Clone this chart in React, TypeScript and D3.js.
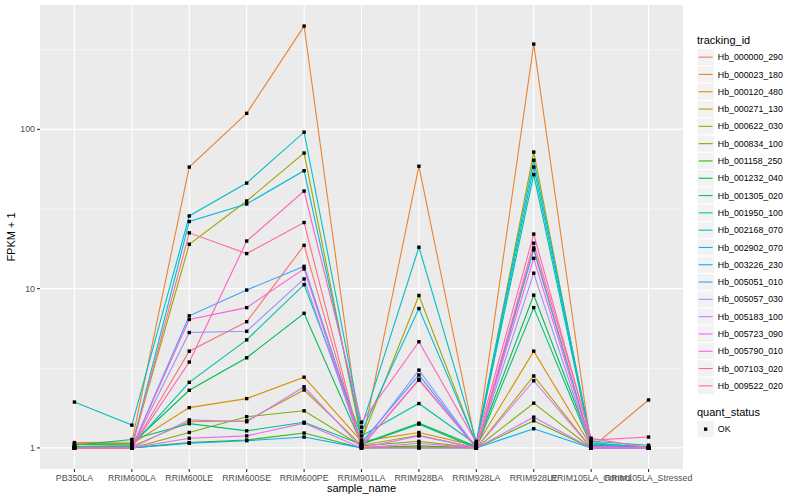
import React from 'react';
import * as d3 from 'd3';

const samples = ['PB350LA', 'RRIM600LA', 'RRIM600LE', 'RRIM600SE', 'RRIM600PE', 'RRIM901LA', 'RRIM928BA', 'RRIM928LA', 'RRIM928LE', 'RRIM105LA_Control', 'RRIM105LA_Stressed'];

const trackingIds = ['Hb_000000_290', 'Hb_000023_180', 'Hb_000120_480', 'Hb_000271_130', 'Hb_000622_030', 'Hb_000834_100', 'Hb_001158_250', 'Hb_001232_040', 'Hb_001305_020', 'Hb_001950_100', 'Hb_002168_070', 'Hb_002902_070', 'Hb_003226_230', 'Hb_005051_010', 'Hb_005057_030', 'Hb_005183_100', 'Hb_005723_090', 'Hb_005790_010', 'Hb_007103_020', 'Hb_009522_020'];

// FPKM + 1 per sample, in the order of `samples`
const hb000000_290 = [1.0, 1.0, 4.05, 6.2, 18.7, 1.02, 2.7, 1.0, 18.0, 1.05, 1.0];
const hb000023_180 = [1.08, 1.09, 58, 126, 445, 1.03, 58.7, 1.02, 343, 1.0, 2.0];
const hb000120_480 = [1.06, 1.06, 1.79, 2.04, 2.78, 1.1, 1.25, 1.03, 4.05, 1.02, 1.0];
const hb000271_130 = [1.0, 1.02, 1.46, 1.48, 2.31, 1.04, 1.2, 1.0, 2.83, 1.0, 1.0];
const hb000622_030 = [1.02, 1.03, 19.0, 35.5, 71, 1.12, 9.06, 1.05, 72, 1.03, 1.0];
const hb000834_100 = [1.0, 1.0, 1.25, 1.57, 1.71, 1.03, 1.1, 1.0, 1.91, 1.0, 1.0];
const hb001158_250 = [1.0, 1.0, 1.08, 1.12, 1.24, 1.0, 1.03, 1.0, 1.48, 1.0, 1.0];
const hb001232_040 = [1.05, 1.06, 2.3, 3.68, 7.0, 1.06, 1.43, 1.02, 9.1, 1.04, 1.0];
const hb001305_020 = [1.04, 1.13, 1.42, 1.28, 1.45, 1.05, 1.41, 1.0, 7.6, 1.02, 1.0];
const hb001950_100 = [1.02, 1.03, 2.58, 4.77, 10.6, 1.19, 1.9, 1.05, 52, 1.06, 1.02];
const hb002168_070 = [1.94, 1.39, 28.6, 46, 96, 1.35, 18.2, 1.1, 64, 1.1, 1.04];
const hb002902_070 = [1.0, 1.02, 26.4, 34, 55, 1.26, 7.5, 1.07, 58, 1.08, 1.0];
const hb003226_230 = [1.0, 1.0, 1.07, 1.11, 1.17, 1.0, 1.0, 1.0, 1.32, 1.0, 1.0];
const hb005051_010 = [1.0, 1.0, 6.75, 9.8, 13.8, 1.08, 2.87, 1.0, 17.5, 1.03, 1.0];
const hb005057_030 = [1.0, 1.0, 5.3, 5.4, 11.5, 1.04, 3.08, 1.0, 12.5, 1.0, 1.0];
const hb005183_100 = [1.0, 1.0, 1.5, 1.46, 2.42, 1.0, 1.19, 1.0, 2.64, 1.0, 1.0];
const hb005723_090 = [1.0, 1.0, 1.15, 1.19, 1.43, 1.0, 1.07, 1.0, 1.56, 1.0, 1.0];
const hb005790_010 = [1.0, 1.0, 6.4, 7.6, 13.3, 1.02, 2.66, 1.0, 15.5, 1.02, 1.0];
const hb007103_020 = [1.0, 1.0, 3.46, 19.9, 41, 1.45, 4.64, 1.08, 22, 1.12, 1.17];
const hb009522_020 = [1.0, 1.0, 22.4, 16.6, 26, 1.0, 1.0, 1.0, 19.3, 1.15, 1.0];

const seriesValues = [hb000000_290, hb000023_180, hb000120_480, hb000271_130, hb000622_030, hb000834_100, hb001158_250, hb001232_040, hb001305_020, hb001950_100, hb002168_070, hb002902_070, hb003226_230, hb005051_010, hb005057_030, hb005183_100, hb005723_090, hb005790_010, hb007103_020, hb009522_020];

const palette = ['#F8766D', '#EA8331', '#D89000', '#C09B00', '#A3A500', '#7CAE00', '#39B600', '#00BB4E', '#00BF7D', '#00C1A3', '#00BFC4', '#00BAE0', '#00B0F6', '#35A2FF', '#9590FF', '#C77CFF', '#E76BF3', '#FA62DB', '#FF62BC', '#FF6C91'];

const yTicks = [1, 10, 100];
const yMinor = [Math.pow(10, 0.5), Math.pow(10, 1.5), Math.pow(10, 2.5)];
const quantStatus = ['OK'];

const FONT = 'Liberation Sans, Arial, Helvetica, sans-serif';

export default function App() {
  const W = 800, H = 500;
  const left = 40, right = 683, top = 5, bottom = 469;

  const allVals = seriesValues.flat();
  const lo = Math.log10(d3.min(allVals) as number);
  const hi = Math.log10(d3.max(allVals) as number);
  const pad = (hi - lo) * 0.05;
  const y = d3.scaleLog().domain([Math.pow(10, lo - pad), Math.pow(10, hi + pad)]).range([bottom, top]);
  const x = d3.scalePoint<string>().domain(samples).range([left, right]).padding(0.6);

  const line = d3.line<number>().x((_, i) => x(samples[i]) as number).y((d) => y(d));

  const keyX = 697, keySize = 17.3, key0 = 48.5;
  const ptSize = 3.4;

  return (
    <svg width={W} height={H} style={{ position: 'absolute', left: 0, top: 0, background: '#fff' }} fontFamily={FONT}>
      <rect x={0} y={0} width={W} height={H} fill="#fff" />
      <rect x={left} y={top} width={right - left} height={bottom - top} fill="#EBEBEB" />
      {yMinor.map((v) => (
        <line key={'mn' + v} x1={left} x2={right} y1={y(v)} y2={y(v)} stroke="#fff" strokeWidth={0.55} />
      ))}
      {yTicks.map((v) => (
        <line key={'mj' + v} x1={left} x2={right} y1={y(v)} y2={y(v)} stroke="#fff" strokeWidth={1.1} />
      ))}
      {samples.map((s) => (
        <line key={'vx' + s} x1={x(s)} x2={x(s)} y1={top} y2={bottom} stroke="#fff" strokeWidth={1.1} />
      ))}
      {seriesValues.map((vals, i) => (
        <path key={'ln' + i} d={line(vals) as string} fill="none" stroke={palette[i]} strokeWidth={1.1} />
      ))}
      {seriesValues.map((vals, i) =>
        vals.map((v, j) => (
          <rect key={'pt' + i + '_' + j} x={(x(samples[j]) as number) - ptSize / 2} y={y(v) - ptSize / 2} width={ptSize} height={ptSize} fill="#000" />
        ))
      )}
      {/* y axis */}
      {yTicks.map((v) => (
        <g key={'yt' + v}>
          <line x1={left - 3} x2={left} y1={y(v)} y2={y(v)} stroke="#333" strokeWidth={1.1} />
          <text x={left - 5} y={y(v)} dy="0.35em" textAnchor="end" fontSize={8.8} fill="#4D4D4D">{v}</text>
        </g>
      ))}
      {/* x axis */}
      {samples.map((s) => (
        <g key={'xt' + s}>
          <line x1={x(s)} x2={x(s)} y1={bottom} y2={bottom + 3} stroke="#333" strokeWidth={1.1} />
          <text x={x(s)} y={bottom + 11.5} textAnchor="middle" fontSize={8.8} fill="#4D4D4D">{s}</text>
        </g>
      ))}
      <text x={(left + right) / 2} y={492} textAnchor="middle" fontSize={11} fill="#000">sample_name</text>
      <text transform={`translate(15,${(top + bottom) / 2}) rotate(-90)`} textAnchor="middle" fontSize={11} fill="#000">FPKM + 1</text>
      {/* legend: tracking_id */}
      <text x={keyX} y={44} fontSize={11} fill="#000">tracking_id</text>
      {trackingIds.map((id, i) => {
        const ky = key0 + i * keySize;
        return (
          <g key={'lg' + id}>
            <rect x={keyX} y={ky} width={keySize} height={keySize} fill="#F2F2F2" stroke="#fff" strokeWidth={1} />
            <line x1={keyX + 1.7} x2={keyX + keySize - 1.7} y1={ky + keySize / 2} y2={ky + keySize / 2} stroke={palette[i]} strokeWidth={1.1} />
            <text x={keyX + keySize + 3.5} y={ky + keySize / 2} dy="0.35em" fontSize={8.8} fill="#000">{id}</text>
          </g>
        );
      })}
      {/* legend: quant_status */}
      <text x={keyX} y={416} fontSize={11} fill="#000">quant_status</text>
      {quantStatus.map((q, i) => {
        const ky = 420.5 + i * keySize;
        return (
          <g key={'qs' + q}>
            <rect x={keyX} y={ky} width={keySize} height={keySize} fill="#F2F2F2" stroke="#fff" strokeWidth={1} />
            <rect x={keyX + keySize / 2 - ptSize / 2} y={ky + keySize / 2 - ptSize / 2} width={ptSize} height={ptSize} fill="#000" />
            <text x={keyX + keySize + 3.5} y={ky + keySize / 2} dy="0.35em" fontSize={8.8} fill="#000">{q}</text>
          </g>
        );
      })}
    </svg>
  );
}
